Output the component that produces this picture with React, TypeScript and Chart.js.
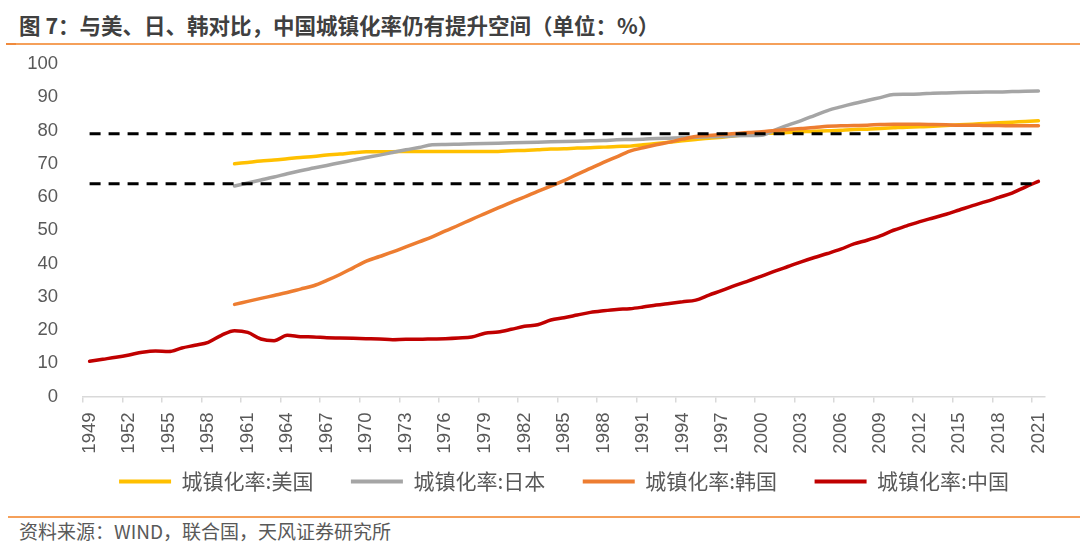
import React, { useEffect, useRef } from 'react';
import { Chart, registerables } from 'chart.js';

Chart.register(...registerables);

const years: string[] = [
  '1949', '1950', '1951', '1952', '1953', '1954', '1955', '1956', '1957', '1958',
  '1959', '1960', '1961', '1962', '1963', '1964', '1965', '1966', '1967', '1968',
  '1969', '1970', '1971', '1972', '1973', '1974', '1975', '1976', '1977', '1978',
  '1979', '1980', '1981', '1982', '1983', '1984', '1985', '1986', '1987', '1988',
  '1989', '1990', '1991', '1992', '1993', '1994', '1995', '1996', '1997', '1998',
  '1999', '2000', '2001', '2002', '2003', '2004', '2005', '2006', '2007', '2008',
  '2009', '2010', '2011', '2012', '2013', '2014', '2015', '2016', '2017', '2018',
  '2019', '2020', '2021',
];

// 1949-1959 no data for US/Japan/Korea
const usRate: (number | null)[] = [
  null, null, null, null, null, null, null, null, null, null, null,
  70.0, 70.4, 70.8, 71.1, 71.5, 71.9, 72.2, 72.6, 72.9, 73.3,
  73.6, 73.6, 73.6, 73.7, 73.7, 73.7, 73.7, 73.7, 73.7, 73.7,
  73.7, 73.9, 74.0, 74.2, 74.4, 74.5, 74.7, 74.8, 75.0, 75.2,
  75.3, 75.7, 76.1, 76.5, 76.9, 77.3, 77.7, 78.0, 78.4, 78.8,
  79.1, 79.2, 79.4, 79.6, 79.8, 79.9, 80.1, 80.3, 80.4, 80.6,
  80.8, 81.0, 81.1, 81.3, 81.5, 81.7, 81.9, 82.1, 82.3, 82.5,
  82.7, 82.9,
];

const japanRate: (number | null)[] = [
  null, null, null, null, null, null, null, null, null, null, null,
  63.3, 64.2, 65.1, 66.0, 67.0, 67.9, 68.7, 69.5, 70.3, 71.1,
  71.9, 72.6, 73.4, 74.2, 74.9, 75.7, 75.8, 75.9, 76.0, 76.1,
  76.2, 76.3, 76.4, 76.5, 76.6, 76.7, 76.8, 76.9, 77.0, 77.2,
  77.3, 77.4, 77.6, 77.7, 77.8, 78.0, 78.1, 78.2, 78.4, 78.5,
  78.6, 80.1, 81.6, 83.0, 84.5, 86.0, 87.1, 88.1, 89.0, 89.9,
  90.8, 90.9, 91.0, 91.2, 91.3, 91.4, 91.5, 91.6, 91.6, 91.7,
  91.8, 91.9,
];

const koreaRate: (number | null)[] = [
  null, null, null, null, null, null, null, null, null, null, null,
  27.7, 28.6, 29.5, 30.4, 31.3, 32.3, 33.3, 34.9, 36.7, 38.7,
  40.7, 42.1, 43.5, 45.0, 46.5, 48.0, 49.8, 51.5, 53.3, 55.0,
  56.7, 58.4, 60.0, 61.7, 63.3, 64.9, 66.8, 68.6, 70.4, 72.1,
  73.8, 74.8, 75.7, 76.5, 77.4, 78.2, 78.5, 78.8, 79.1, 79.4,
  79.6, 80.0, 80.3, 80.6, 80.9, 81.3, 81.4, 81.5, 81.6, 81.8,
  81.9, 81.9, 81.9, 81.8, 81.7, 81.6, 81.6, 81.5, 81.5, 81.4,
  81.4, 81.4,
];

const chinaRate: number[] = [
  10.6, 11.2, 11.8, 12.5, 13.3, 13.7, 13.5, 14.6, 15.4, 16.3, 18.4,
  19.8, 19.3, 17.3, 16.8, 18.4, 18.0, 17.9, 17.7, 17.6, 17.5,
  17.4, 17.3, 17.1, 17.2, 17.2, 17.3, 17.4, 17.6, 17.9, 19.0,
  19.4, 20.2, 21.1, 21.6, 23.0, 23.7, 24.5, 25.3, 25.8, 26.2,
  26.4, 26.9, 27.5, 28.0, 28.5, 29.0, 30.5, 31.9, 33.4, 34.8,
  36.2, 37.7, 39.1, 40.5, 41.8, 43.0, 44.3, 45.9, 47.0, 48.3,
  50.0, 51.3, 52.6, 53.7, 54.8, 56.1, 57.4, 58.6, 59.9, 61.2,
  63.0, 64.7,
];

const referenceLevels: number[] = [79, 64];

const seriesNames = ['城镇化率:美国', '城镇化率:日本', '城镇化率:韩国', '城镇化率:中国'];
const seriesColors = ['#ffc000', '#a5a5a5', '#ed7d31', '#c00000'];

const numFont = "'Liberation Sans', Arial, sans-serif";
const cjkFont = "'Noto Sans CJK SC', 'Noto Sans', sans-serif";

export default function App() {
  const ref = useRef<HTMLCanvasElement>(null);

  useEffect(() => {
    if (!ref.current) return;
    const seriesData = [usRate, japanRate, koreaRate, chinaRate];
    const lineSets = seriesData.map((d, i) => ({
      label: seriesNames[i],
      data: d,
      borderColor: seriesColors[i],
      backgroundColor: seriesColors[i],
      borderWidth: 3.5,
      pointRadius: 0,
      pointHoverRadius: 0,
      fill: false,
      cubicInterpolationMode: 'monotone' as const,
      borderCapStyle: 'round' as const,
      borderJoinStyle: 'round' as const,
      order: 4 - i,
    }));
    const dashSets = referenceLevels.map((lv, i) => ({
      label: 'ref' + i,
      data: years.map(() => lv),
      borderColor: '#000000',
      backgroundColor: '#000000',
      borderWidth: 3,
      borderDash: [11, 8],
      pointRadius: 0,
      pointHoverRadius: 0,
      fill: false,
      order: 0,
    }));

    const chart = new Chart(ref.current, {
      type: 'line',
      data: { labels: years, datasets: [...lineSets, ...dashSets] as any },
      options: {
        responsive: false,
        animation: false,
        events: [],
        layout: { padding: { top: 14, right: 35, left: 0, bottom: 0 } },
        scales: {
          x: {
            type: 'category',
            offset: true,
            grid: {
              display: true,
              offset: true,
              drawOnChartArea: false,
              drawTicks: true,
              tickLength: 6,
              lineWidth: 1.5,
              color: '#d9d9d9',
              tickColor: (c: any) =>
                c.index !== undefined && c.index % 3 === 0 ? '#d9d9d9' : 'rgba(0,0,0,0)',
            },
            border: { display: true, color: '#d9d9d9', width: 1.5 },
            ticks: {
              autoSkip: false,
              maxRotation: 90,
              minRotation: 90,
              padding: 10,
              color: '#595959',
              font: { family: numFont, size: 18.5 },
              callback: (_v: any, idx: number) => (idx % 3 === 0 ? years[idx] : ''),
            },
            afterFit: (s: any) => {
              s.height = 58;
            },
          },
          y: {
            min: 0,
            max: 100,
            grid: { display: false, drawTicks: false },
            border: { display: false },
            ticks: {
              stepSize: 10,
              padding: 25,
              color: '#595959',
              font: { family: numFont, size: 18.5 },
            },
            afterFit: (s: any) => {
              s.width = 83;
              s.paddingTop = 12;
              s.paddingBottom = 12;
            },
          },
        },
        plugins: {
          tooltip: { enabled: false },
          legend: {
            display: true,
            position: 'bottom',
            fullSize: false,
            labels: {
              boxWidth: 52,
              boxHeight: 4,
              padding: 16.5,
              color: '#595959',
              font: { family: cjkFont, size: 21 },
              generateLabels: () =>
                seriesNames.map((n, i) => ({
                  // trailing ideographic space widens the gap between items
                  text: i < seriesNames.length - 1 ? n + '\u3000' : n,
                  fillStyle: seriesColors[i],
                  strokeStyle: seriesColors[i],
                  lineWidth: 0,
                  hidden: false,
                  datasetIndex: i,
                  fontColor: '#595959',
                })),
            },
          },
        },
      },
    });
    return () => chart.destroy();
  }, []);

  return (
    <div
      style={{
        position: 'absolute',
        left: 0,
        top: 0,
        width: 1080,
        height: 557,
        background: '#ffffff',
        overflow: 'hidden',
      }}
    >
      <div
        style={{
          position: 'absolute',
          left: 19,
          top: 11,
          fontFamily: cjkFont,
          fontSize: 21.5,
          lineHeight: '28px',
          fontWeight: 700,
          color: '#404040',
          whiteSpace: 'nowrap',
        }}
      >
        图 7：与美、日、韩对比，中国城镇化率仍有提升空间（单位：%）
      </div>
      <div
        style={{
          position: 'absolute',
          left: 6,
          top: 43,
          width: 1074,
          height: 1.5,
          background: '#f5a05a',
        }}
      />
      <div
        style={{
          position: 'absolute',
          left: 6,
          top: 42.5,
          width: 10,
          height: 2.5,
          background: '#f08a3c',
        }}
      />
      <canvas
        ref={ref}
        width={1080}
        height={452}
        style={{ position: 'absolute', left: 0, top: 50, width: 1080, height: 452 }}
      />
      <div
        style={{
          position: 'absolute',
          left: 8,
          top: 516,
          width: 1072,
          height: 1.5,
          background: '#f5a05a',
        }}
      />
      <div
        style={{
          position: 'absolute',
          left: 19,
          top: 520,
          fontFamily: cjkFont,
          fontSize: 19,
          lineHeight: '22px',
          color: '#595959',
          whiteSpace: 'nowrap',
        }}
      >
        资料来源：WIND，联合国，天风证券研究所
      </div>
    </div>
  );
}
